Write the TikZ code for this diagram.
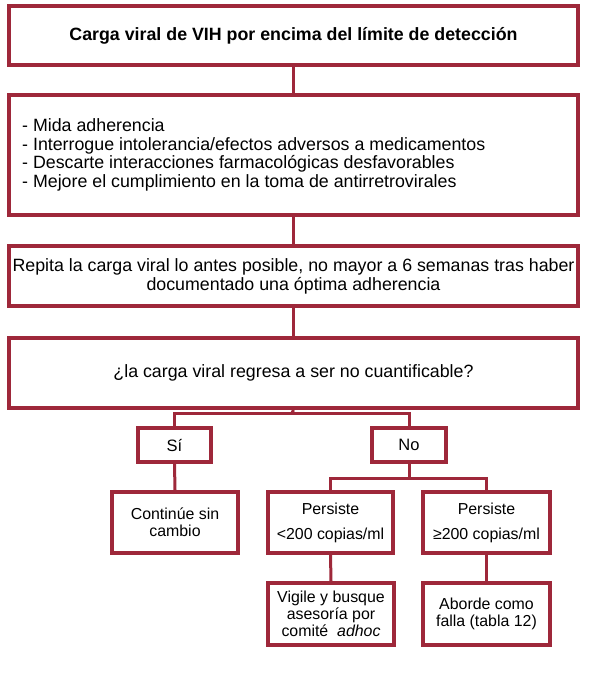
\documentclass[tikz,border=0pt]{standalone}
\usepackage{fontspec}
\setmainfont{Liberation Sans}
\definecolor{frame}{RGB}{158,40,58}
\begin{document}
\begin{tikzpicture}[x=1pt,y=-1pt,
  box/.style={draw=frame,line width=3.6pt,fill=white,inner sep=0pt,align=center,
    font=\fontsize{17.8}{18.8}\selectfont},
  small/.style={font=\fontsize{15.9}{17}\selectfont},
  conn/.style={draw=frame,line width=3pt}]
\useasboundingbox (0,0) rectangle (590,673);
% boxes (outer extents minus line width)
\node[box,minimum width=569.4pt,minimum height=59.4pt,font=\fontsize{17.8}{18}\selectfont\bfseries] (b1) at (293.5,35.5) {Carga viral de VIH por encima del límite de detección};
\node[box,minimum width=569.4pt,minimum height=120.4pt] (b2) at (293.5,155) {};
\node[anchor=west,inner sep=0pt,align=left,font=\fontsize{17.8}{18.5}\selectfont] (b2t) at (22,155) {- Mida adherencia\\- Interrogue intolerancia/efectos adversos a medicamentos\\- Descarte interacciones farmacológicas desfavorables\\- Mejore el cumplimiento en la toma de antirretrovirales};
\node[box,minimum width=569.4pt,minimum height=60.4pt] (b3) at (293.5,276) {Repita la carga viral lo antes posible, no mayor a 6 semanas tras haber\\documentado una óptima adherencia};
\node[box,minimum width=569.4pt,minimum height=70.4pt] (b4) at (293.5,373) {¿la carga viral regresa a ser no cuantificable?};
\node[box,small,minimum width=73.4pt,minimum height=34.4pt,font=\fontsize{16.5}{17}\selectfont] (si) at (174.5,445) {Sí};
\node[box,small,minimum width=74.4pt,minimum height=34.4pt,font=\fontsize{16.5}{17}\selectfont] (no) at (409,445) {No};
\node[box,small,minimum width=126.4pt,minimum height=61.4pt] (cont) at (175,522.5) {Continúe sin\\cambio};
\node[box,small,minimum width=125.4pt,minimum height=61.4pt,font=\fontsize{15.9}{25}\selectfont] (p1) at (330.5,522.5) {Persiste\\<200 copias/ml};
\node[box,small,minimum width=127.4pt,minimum height=61.4pt,font=\fontsize{15.9}{25}\selectfont] (p2) at (486.5,522.5) {Persiste\\≥200 copias/ml};
\node[box,small,minimum width=126.4pt,minimum height=62.4pt] (vig) at (331,614) {Vigile y busque\\asesoría por\\comité \ \textit{adhoc}};
\node[box,small,minimum width=127.4pt,minimum height=62.4pt] (abo) at (486.5,614) {Aborde como\\falla (tabla 12)};
% connector junctions
\coordinate (j1) at (292,413);
\coordinate (j2) at (409,478);
% connectors
\draw[conn] (b1.south) -- (b2.north);
\draw[conn] (b2.south) -- (b3.north);
\draw[conn] (b3.south) -- (b4.north);
\draw[conn] (b4.south) -- (j1);
\draw[conn] (j1) -| (si.north);
\draw[conn] (j1) -| (no.north);
\draw[conn] (si.south) -- (cont.north);
\draw[conn] (no.south) -- (j2);
\draw[conn] (j2) -| (p1.north);
\draw[conn] (j2) -| (p2.north);
\draw[conn] (p1.south) -- (vig.north);
\draw[conn] (p2.south) -- (abo.north);
\end{tikzpicture}
\end{document}
